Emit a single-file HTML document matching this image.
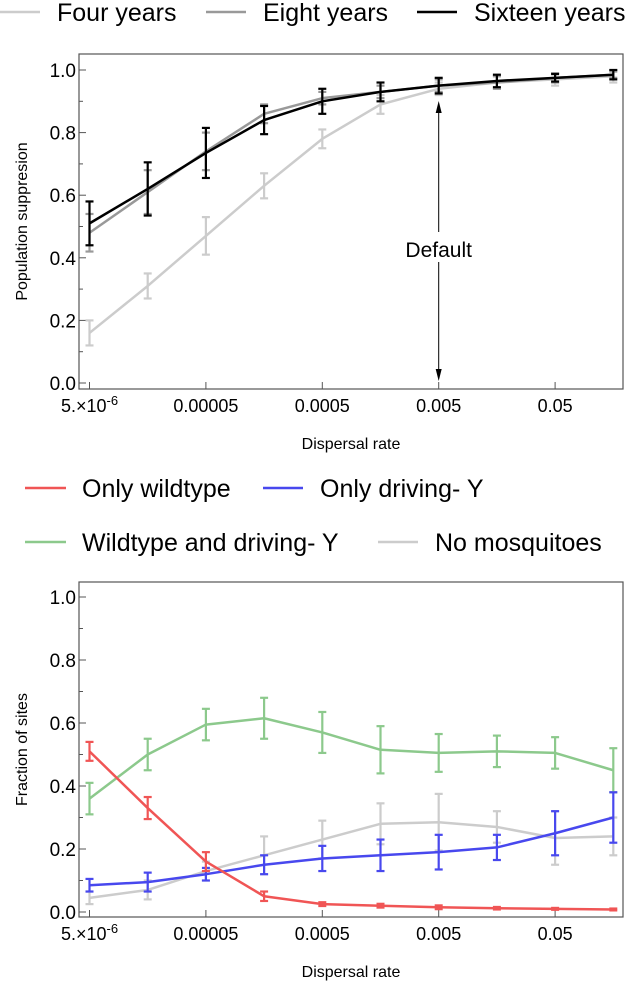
<!DOCTYPE html>
<html><head><meta charset="utf-8"><style>
html,body{margin:0;padding:0;background:#fff;}
svg{display:block;font-family:"Liberation Sans","DejaVu Sans",sans-serif;}
</style></head><body>
<svg id="chart" width="631" height="982" viewBox="0 0 631 982" xmlns="http://www.w3.org/2000/svg">
<g>
 <line x1="0" y1="12" x2="40" y2="12" stroke="#cccccc" stroke-width="2.5"/>
 <text x="57" y="21" font-size="25">Four years</text>
 <line x1="206" y1="12" x2="246" y2="12" stroke="#999999" stroke-width="2.5"/>
 <text x="263" y="21" font-size="25">Eight years</text>
 <line x1="417" y1="12" x2="457" y2="12" stroke="#000" stroke-width="2.5"/>
 <text x="474" y="21" font-size="25">Sixteen years</text>
</g>
<g>
 <line x1="25" y1="488" x2="66" y2="488" stroke="#f05555" stroke-width="2.5"/>
 <text x="82" y="497" font-size="25">Only wildtype</text>
 <line x1="263" y1="488" x2="303" y2="488" stroke="#4848ee" stroke-width="2.5"/>
 <text x="320" y="497" font-size="25">Only driving- Y</text>
 <line x1="25" y1="542" x2="66" y2="542" stroke="#8cc98c" stroke-width="2.5"/>
 <text x="82" y="551" font-size="25">Wildtype and driving- Y</text>
 <line x1="378" y1="542" x2="418" y2="542" stroke="#cccccc" stroke-width="2.5"/>
 <text x="435" y="551" font-size="25">No mosquitoes</text>
</g>
</svg>
<script>
const xLabels = ["5.\u00d710","0.00005","0.0005","0.005","0.05"];
const yTicks = [0,0.2,0.4,0.6,0.8,1.0];
// top panel
const fourYears = [0.16,0.31,0.47,0.63,0.78,0.89,0.94,0.96,0.97,0.98];
const fourErr = [0.04,0.04,0.06,0.04,0.03,0.03,0.02,0.02,0.02,0.02];
const eightYears = [0.48,0.61,0.74,0.86,0.91,0.93,0.95,0.96,0.975,0.985];
const eightErr = [0.06,0.07,0.06,0.03,0.02,0.02,0.02,0.02,0.015,0.01];
const sixteenYears = [0.51,0.62,0.735,0.84,0.90,0.93,0.95,0.965,0.975,0.985];
const sixteenErr = [0.07,0.085,0.08,0.045,0.04,0.03,0.025,0.02,0.012,0.015];
// bottom panel
const onlyWildtype = [0.51,0.33,0.16,0.05,0.025,0.02,0.015,0.012,0.01,0.008];
const wildErr = [0.03,0.035,0.03,0.015,0.006,0.006,0.006,0.004,0.003,0.003];
const onlyDriving = [0.085,0.095,0.12,0.15,0.17,0.18,0.19,0.205,0.25,0.30];
const drivingErr = [0.02,0.03,0.02,0.03,0.04,0.05,0.055,0.04,0.07,0.08];
const bothTypes = [0.36,0.50,0.595,0.615,0.57,0.515,0.505,0.51,0.505,0.45];
const bothErr = [0.05,0.05,0.05,0.065,0.065,0.075,0.06,0.05,0.05,0.07];
const noMosquitoes = [0.045,0.07,0.13,0.18,0.23,0.28,0.285,0.27,0.235,0.24];
const noErr = [0.02,0.03,0.03,0.06,0.06,0.065,0.09,0.05,0.085,0.06];

const NS="http://www.w3.org/2000/svg";
const svg=document.getElementById('chart');
function mk(tag,attrs,parent){const e=document.createElementNS(NS,tag);for(const k in attrs)e.setAttribute(k,attrs[k]);(parent||svg).appendChild(e);return e;}
const xScale=i=>89.5+58.2*i;

function panel(P){
 const yS=v=>P.y0-(P.y0-P.y1)*v;
 const g=mk('g',{});
 
 
 const fr=mk('rect',{x:79,y:P.top,width:544,height:P.bottom-P.top,fill:'none',stroke:'#555','stroke-width':1.2},g);
 
 
 for(let k=0;k<=10;k++){const v=k/10,y=yS(v),len=(k%2==0)?7:4;
  mk('line',{x1:79,y1:y,x2:79+len,y2:y,stroke:'#555','stroke-width':1},g);}
 yTicks.forEach(v=>{const t=mk('text',{x:76,y:yS(v)+7,'font-size':19,'text-anchor':'end'},g);t.textContent=v.toFixed(1);
  
  });
 xLabels.forEach((l,i)=>{const x=xScale(i*2);
  mk('line',{x1:x,y1:P.bottom,x2:x,y2:P.bottom-7,stroke:'#555','stroke-width':1},g);
  const t=mk('text',{x:x,y:P.bottom+23,'font-size':18,'text-anchor':'middle'},g);
  
  
  if(i==0){t.textContent=l;const s=mk('tspan',{dy:-7,'font-size':13},t);s.textContent='-6';}else t.textContent=l;});
 const xt=mk('text',{x:351,y:P.bottom+60,'font-size':16,'text-anchor':'middle'},g);xt.textContent='Dispersal rate';
 
 
 const yc=(P.top+P.bottom)/2;
 const yt=mk('text',{x:27,y:yc,'font-size':16,'text-anchor':'middle',transform:`rotate(-90 27 ${yc})`},g);yt.textContent=P.ytitle;
 
 
 P.series.forEach(s=>{
  const sg=mk('g',{},g);
  
  
  s.vals.forEach((v,i)=>{const x=xScale(i),a=yS(v+s.err[i]),b=yS(v-s.err[i]);
   mk('line',{x1:x,y1:a,x2:x,y2:b,stroke:s.c,'stroke-width':2.2},sg);
   mk('line',{x1:x-4,y1:a,x2:x+4,y2:a,stroke:s.c,'stroke-width':2.2},sg);
   mk('line',{x1:x-4,y1:b,x2:x+4,y2:b,stroke:s.c,'stroke-width':2.2},sg);});
  const pts=s.vals.map((v,i)=>xScale(i)+','+yS(v)).join(' ');
  const pl=mk('polyline',{points:pts,fill:'none',stroke:s.c,'stroke-width':2.5,'stroke-linejoin':'round'},sg);
  
  
 });
 return {g,yS};
}
const topPanel=panel({name:'top-panel',top:54,bottom:389,y0:383,y1:70,ytitle:'Population suppresion',series:[
 {name:'series-four-years',vals:fourYears,err:fourErr,c:'#cccccc'},
 {name:'series-eight-years',vals:eightYears,err:eightErr,c:'#999999'},
 {name:'series-sixteen-years',vals:sixteenYears,err:sixteenErr,c:'#000000'}]});
const ax=xScale(6);
const ann=mk('g',{},topPanel.g);


mk('line',{x1:ax,y1:104,x2:ax,y2:232,stroke:'#000','stroke-width':1},ann);
mk('line',{x1:ax,y1:262,x2:ax,y2:378,stroke:'#000','stroke-width':1},ann);
mk('path',{d:`M${ax-3},113 L${ax},101 L${ax+3},113 Z`,fill:'#000'},ann);
mk('path',{d:`M${ax-3},369 L${ax},381 L${ax+3},369 Z`,fill:'#000'},ann);
const dt=mk('text',{x:ax,y:257,'font-size':21,'text-anchor':'middle'},ann);dt.textContent='Default';
const bottomPanel=panel({name:'bottom-panel',top:582,bottom:917,y0:912,y1:597,ytitle:'Fraction of sites',series:[
 {name:'series-wildtype-and-driving-y',vals:bothTypes,err:bothErr,c:'#8cc98c'},
 {name:'series-no-mosquitoes',vals:noMosquitoes,err:noErr,c:'#cccccc'},
 {name:'series-only-driving-y',vals:onlyDriving,err:drivingErr,c:'#4848ee'},
 {name:'series-only-wildtype',vals:onlyWildtype,err:wildErr,c:'#f05555'}]});
</script>
</body></html>
